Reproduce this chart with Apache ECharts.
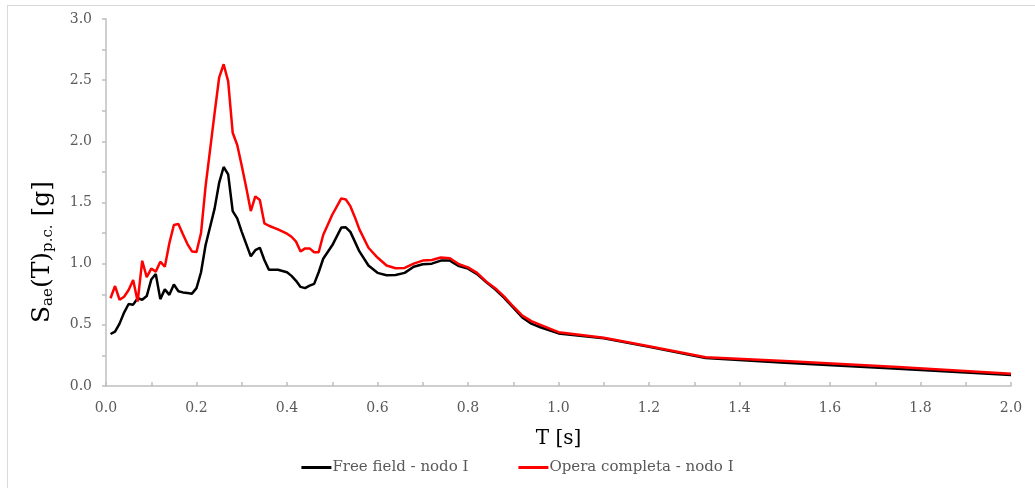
<!DOCTYPE html>
<html>
<head>
<meta charset="utf-8">
<script src="https://cdn.jsdelivr.net/npm/echarts@6/dist/echarts.min.js"></script>
<style>
  html, body { margin: 0; padding: 0; background: #ffffff; }
  #frame { position: absolute; left: 7px; top: 5px; width: 1100px; height: 600px; border: 1px solid #d9d9d9; box-sizing: border-box; }
  #chart { position: absolute; left: 0; top: 0; width: 1035px; height: 488px; }
</style>
</head>
<body>
<div id="frame"></div>
<div id="chart"></div>
<script>
// Spectral periods T [s]
const periods = [
  0.01, 0.02, 0.03, 0.04, 0.05, 0.06, 0.07, 0.08, 0.09, 0.10,
  0.11, 0.12, 0.13, 0.14, 0.15, 0.16, 0.17, 0.18, 0.19, 0.20,
  0.21, 0.22, 0.23, 0.24, 0.25, 0.26, 0.27, 0.28, 0.29, 0.30,
  0.31, 0.32, 0.33, 0.34, 0.35, 0.36, 0.38, 0.40, 0.41, 0.42,
  0.43, 0.44, 0.45, 0.46, 0.47, 0.48, 0.50, 0.52, 0.53, 0.54,
  0.55, 0.56, 0.58, 0.60, 0.62, 0.64, 0.66, 0.68, 0.70, 0.72,
  0.74, 0.76, 0.78, 0.80, 0.82, 0.84, 0.86, 0.88, 0.90, 0.92,
  0.94, 0.96, 1.00, 1.10, 1.20, 1.325, 1.50, 1.75, 2.00
];

// Free field - nodo I, Sae [g]
const freeField = [
  0.425, 0.445, 0.51, 0.60, 0.67, 0.665, 0.717, 0.705, 0.735, 0.87,
  0.915, 0.71, 0.79, 0.745, 0.83, 0.775, 0.765, 0.76, 0.755, 0.80,
  0.93, 1.15, 1.30, 1.45, 1.66, 1.79, 1.73, 1.43, 1.37, 1.26,
  1.16, 1.06, 1.11, 1.13, 1.03, 0.95, 0.95, 0.93, 0.90, 0.86,
  0.81, 0.80, 0.82, 0.835, 0.93, 1.04, 1.15, 1.295, 1.297, 1.26,
  1.18, 1.10, 0.985, 0.925, 0.905, 0.907, 0.925, 0.975, 0.995, 1.0,
  1.025, 1.025, 0.98, 0.96, 0.915, 0.85, 0.79, 0.72, 0.64, 0.56,
  0.51, 0.48, 0.43, 0.39, 0.32, 0.228, 0.19, 0.14, 0.09
];

// Opera completa - nodo I, Sae [g]
const operaCompleta = [
  0.717, 0.817, 0.705, 0.73, 0.785, 0.867, 0.69, 1.024, 0.89, 0.96,
  0.935, 1.016, 0.975, 1.167, 1.316, 1.324, 1.24, 1.16, 1.10, 1.095,
  1.25, 1.63, 1.93, 2.23, 2.52, 2.63, 2.49, 2.07, 1.97, 1.80,
  1.62, 1.43, 1.55, 1.52, 1.33, 1.31, 1.28, 1.245, 1.22, 1.18,
  1.10, 1.125, 1.125, 1.093, 1.093, 1.234, 1.40, 1.534, 1.525, 1.47,
  1.38, 1.28, 1.13, 1.05, 0.985, 0.962, 0.965, 1.00, 1.025, 1.03,
  1.05, 1.045, 0.995, 0.97, 0.925, 0.855, 0.80, 0.73, 0.65, 0.575,
  0.53, 0.50, 0.44, 0.395, 0.325, 0.235, 0.205, 0.155, 0.10
];

const seriesNames = ['Free field - nodo I', 'Opera completa - nodo I'];

const FONT = 'DejaVu Serif';
const AXIS_COLOR = '#bfbfbf';
const LABEL_COLOR = '#595959';

function pairs(ys) { return periods.map((t, i) => [t, ys[i]]); }

const chart = echarts.init(document.getElementById('chart'), null, { renderer: 'canvas' });

chart.setOption({
  backgroundColor: 'transparent',
  animation: false,
  textStyle: { fontFamily: FONT },
  grid: { left: 106, right: 24, top: 19, bottom: 102, containLabel: false },
  // vertical y-axis title with subscripts, drawn as a rotated rich-text element
  graphic: [{
    type: 'text',
    x: 42,
    y: 252,
    rotation: Math.PI / 2,
    style: {
      text: 'S{sub|ae}(T){sub|p.c.} [g]',
      fontFamily: FONT,
      fontSize: 25,
      fill: '#000000',
      align: 'center',
      verticalAlign: 'middle',
      rich: {
        sub: { fontFamily: FONT, fontSize: 15, fill: '#000000', verticalAlign: 'bottom', padding: [12, 0, 0, 0] }
      }
    }
  }],
  legend: {
    data: seriesNames,
    icon: 'rect',
    bottom: 8,
    left: 'center',
    itemWidth: 30,
    itemHeight: 3,
    itemGap: 50,
    textStyle: { fontFamily: FONT, fontSize: 15, color: LABEL_COLOR, padding: [0, 0, 0, -4] }
  },
  xAxis: {
    type: 'value',
    min: 0,
    max: 2,
    interval: 0.1,
    name: 'T [s]',
    nameLocation: 'middle',
    nameGap: 43,
    nameTextStyle: { fontFamily: FONT, fontSize: 20, color: '#000000' },
    axisLine: { show: true, lineStyle: { color: AXIS_COLOR, width: 1.5 } },
    axisTick: { show: true, inside: true, length: 4, lineStyle: { color: AXIS_COLOR, width: 1.5 } },
    splitLine: { show: false },
    axisLabel: {
      fontFamily: FONT, fontSize: 14, color: LABEL_COLOR, margin: 15,
      formatter: v => (Math.round(v * 10) % 2 === 0 ? v.toFixed(1) : '')
    }
  },
  yAxis: {
    type: 'value',
    min: 0,
    max: 3,
    interval: 0.25,
    axisLine: { show: true, lineStyle: { color: AXIS_COLOR, width: 1.5 } },
    axisTick: { show: true, inside: false, length: 4, lineStyle: { color: AXIS_COLOR, width: 1.5 } },
    splitLine: { show: false },
    axisLabel: {
      fontFamily: FONT, fontSize: 14, color: LABEL_COLOR, margin: 14,
      formatter: v => (Math.round(v * 100) % 50 === 0 ? v.toFixed(1) : '')
    }
  },
  series: [
    {
      name: seriesNames[0],
      type: 'line',
      data: pairs(freeField),
      symbol: 'none',
      smooth: false,
      z: 2,
      lineStyle: { color: '#000000', width: 2.5 },
      itemStyle: { color: '#000000' }
    },
    {
      name: seriesNames[1],
      type: 'line',
      data: pairs(operaCompleta),
      symbol: 'none',
      smooth: false,
      z: 3,
      lineStyle: { color: '#ff0000', width: 2.5 },
      itemStyle: { color: '#ff0000' }
    }
  ]
});
</script>
</body>
</html>
